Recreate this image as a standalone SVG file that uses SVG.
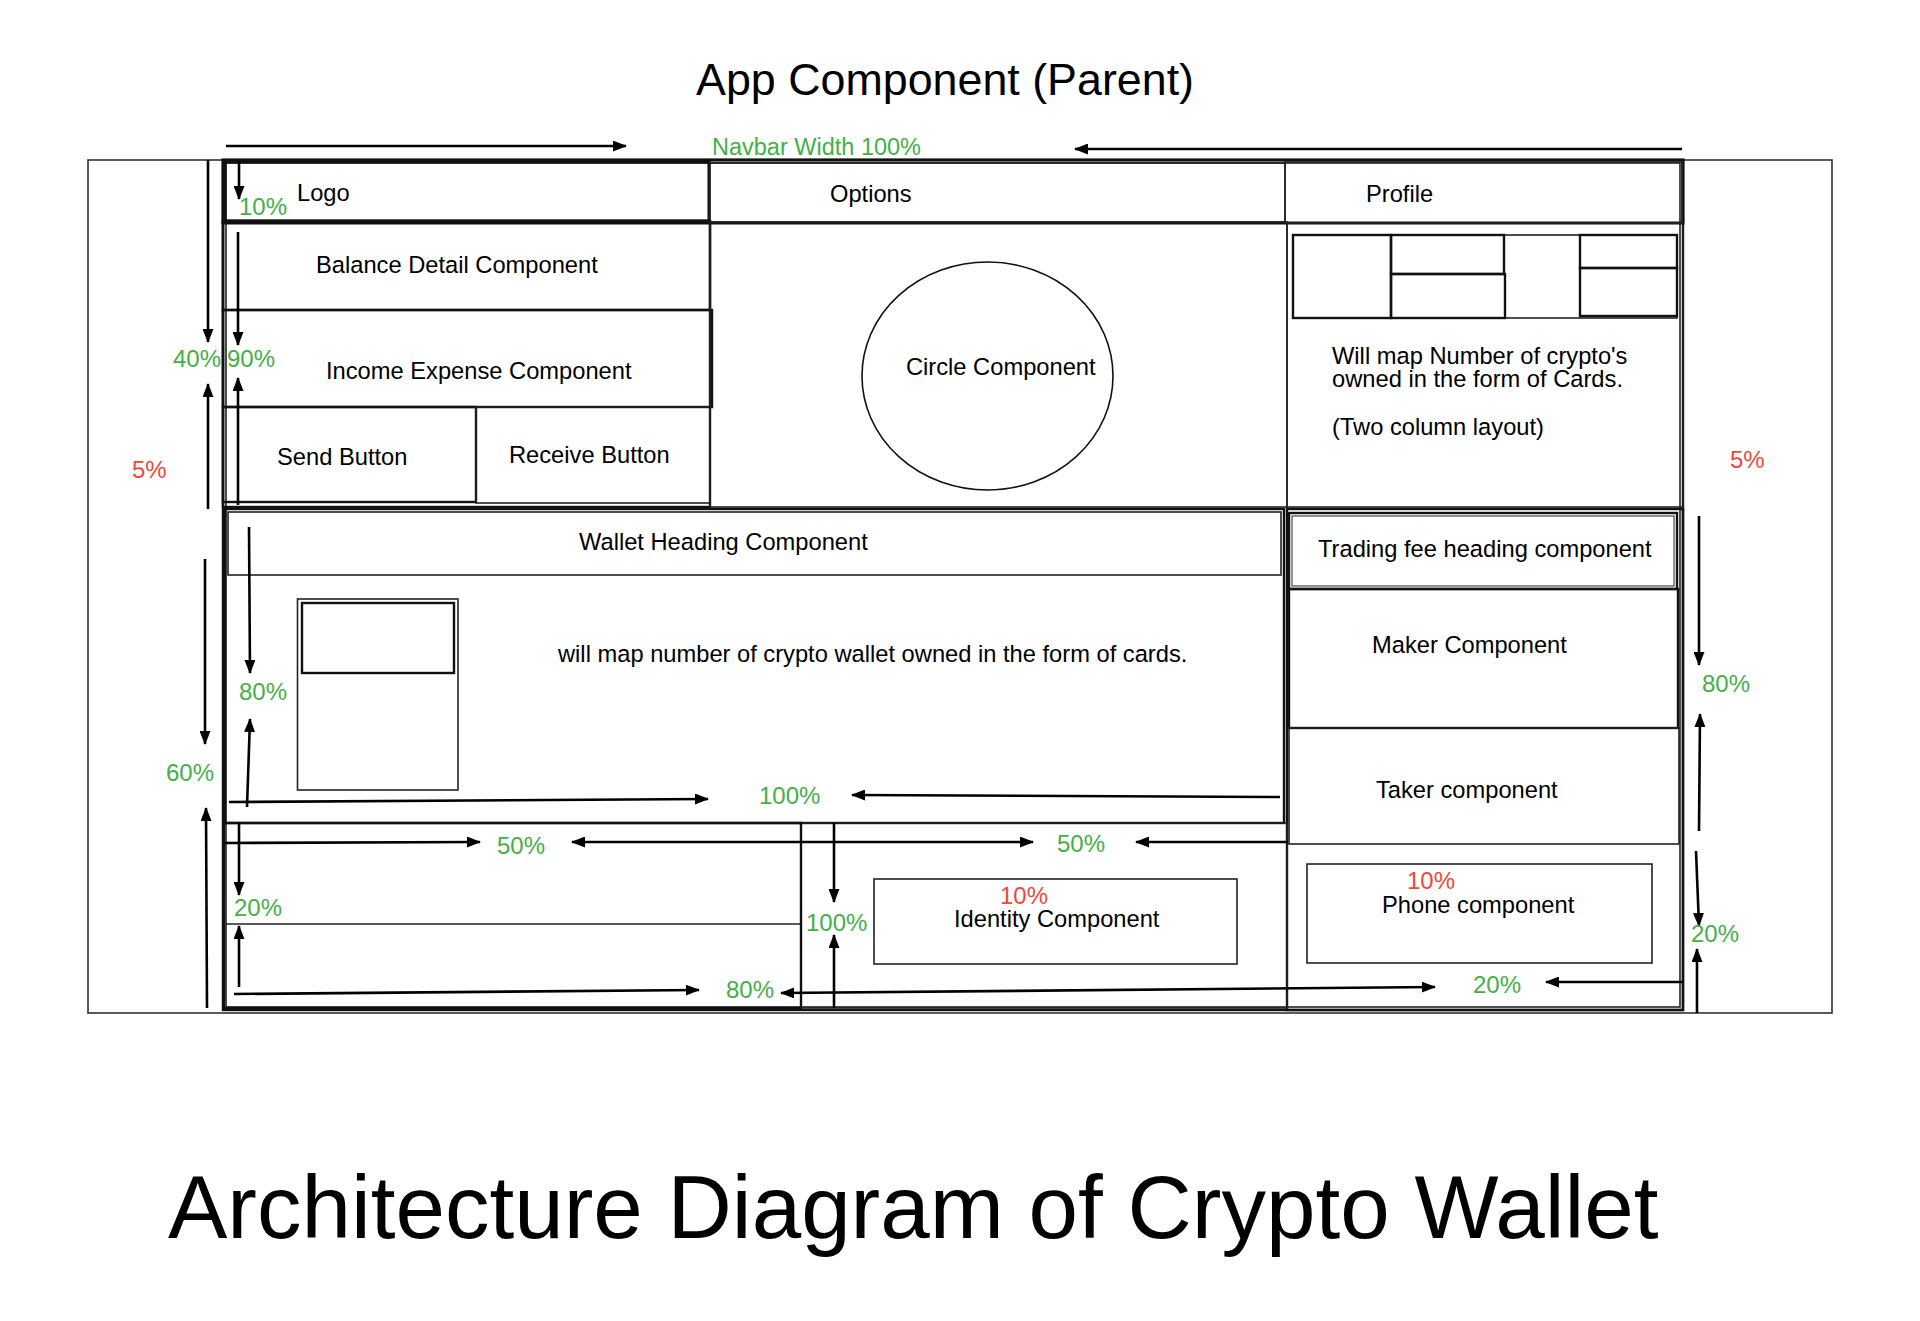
<svg xmlns="http://www.w3.org/2000/svg" width="1920" height="1321" viewBox="0 0 1920 1321">
<style>
  .box{fill:none;stroke:#222;stroke-width:1.6}
  .bx2{fill:none;stroke:#111;stroke-width:2.4}
  .t{font-family:"Liberation Sans",Arial,sans-serif;font-size:23.7px;fill:#000}
  .g{font-family:"Liberation Sans",Arial,sans-serif;font-size:24px;fill:#43b047}
  .r{font-family:"Liberation Sans",Arial,sans-serif;font-size:24px;fill:#f2463a}
  .a{fill:none;stroke:#000;stroke-width:2.6;marker-end:url(#ah)}
  .d{fill:none;stroke:#000;stroke-width:2.6;marker-end:url(#ah);marker-start:url(#ah)}
</style>
<defs>
  <marker id="ah" viewBox="0 0 14 11" refX="13" refY="5.5" markerWidth="14" markerHeight="11" markerUnits="userSpaceOnUse" orient="auto-start-reverse">
    <path d="M0,0 L14,5.5 L0,11 z" fill="#000"/>
  </marker>
</defs>
<rect width="1920" height="1321" fill="#fff"/>

<text x="696" y="95" style="font-family:'Liberation Sans',Arial,sans-serif;font-size:44.8px;fill:#000">App Component (Parent)</text>

<g id="app-frame">
  <rect class="box" x="88" y="160" width="1744" height="853" style="stroke:#333"/>
  <rect class="bx2" x="223" y="160" width="1460" height="850"/>
  <rect class="box" x="226" y="163" width="1454" height="844"/>
</g>

<g id="navbar">
  <rect x="223" y="160" width="1460" height="63" fill="none" stroke="#111" stroke-width="3"/>
  <g id="logo">
    <rect class="bx2" x="225" y="162" width="484" height="59" style="stroke-width:3"/>
    <text class="t" x="297" y="201">Logo</text>
  </g>
  <g id="options">
    <rect class="box" x="710" y="163" width="575" height="59"/>
    <text class="t" x="830" y="202">Options</text>
  </g>
  <g id="profile">
    <rect class="box" x="1285" y="162" width="397" height="61"/>
    <text class="t" x="1366" y="202">Profile</text>
  </g>
</g>

<g id="balance-detail">
  <rect class="bx2" x="223" y="221" width="487" height="89"/>
  <text class="t" x="316" y="273">Balance Detail Component</text>
</g>
<g id="income-expense">
  <rect class="bx2" x="223" y="310" width="489" height="97"/>
  <text class="t" x="326" y="379">Income Expense Component</text>
</g>
<g id="send-button">
  <rect class="bx2" x="223" y="407" width="253" height="95"/>
  <text class="t" x="277" y="465">Send Button</text>
</g>
<g id="receive-button">
  <rect class="box" x="476" y="407" width="234" height="96"/>
  <rect class="bx2" x="223" y="221" width="487" height="286"/>
  <text class="t" x="509" y="463">Receive Button</text>
</g>

<g id="circle-component">
  <rect class="box" x="710" y="222" width="577" height="285"/>
  <ellipse cx="987.5" cy="376" rx="125.5" ry="114" fill="none" stroke="#111" stroke-width="1.6"/>
  <text class="t" x="906" y="375">Circle Component</text>
</g>

<g id="crypto-cards">
  <rect class="box" x="1287" y="223" width="396" height="284"/>
  <rect class="box" x="1293" y="235" width="384" height="83"/>
  <rect class="bx2" x="1293" y="235" width="98" height="83"/>
  <rect class="bx2" x="1391" y="235" width="113" height="39"/>
  <rect class="bx2" x="1391" y="274" width="114" height="44"/>
  <rect class="bx2" x="1580" y="235" width="97" height="33"/>
  <rect class="bx2" x="1580" y="268" width="97" height="48"/>
  <text class="t" x="1332" y="364">Will map Number of crypto's</text>
  <text class="t" x="1332" y="387">owned in the form of Cards.</text>
  <text class="t" x="1332" y="435">(Two column layout)</text>
</g>

<g id="wallet">
  <rect class="bx2" x="225" y="509" width="1059" height="314"/>
  <rect class="box" x="228" y="512" width="1053" height="63"/>
  <text class="t" x="579" y="550">Wallet Heading Component</text>
  <rect class="box" x="297.5" y="599" width="160.5" height="191"/>
  <rect class="bx2" x="302" y="603" width="152" height="70"/>
  <text class="t" x="558" y="662">will map number of crypto wallet owned in the form of cards.</text>
</g>

<g id="trading-fee">
  <rect class="bx2" x="1287" y="509" width="396" height="501"/>
  <rect class="bx2" x="1289" y="513" width="388" height="76"/>
  <rect class="box" x="1292" y="516" width="382" height="70" style="stroke-width:1"/>
  <text class="t" x="1318" y="557">Trading fee heading component</text>
</g>
<g id="maker">
  <rect class="bx2" x="1289" y="589" width="389" height="139"/>
  <text class="t" x="1372" y="653">Maker Component</text>
</g>
<g id="taker">
  <rect class="box" x="1289" y="728" width="390" height="116"/>
  <text class="t" x="1376" y="798">Taker component</text>
</g>
<g id="phone">
  <rect class="box" x="1307" y="864" width="345" height="99"/>
  <text class="r" x="1407" y="889">10%</text>
  <text class="t" x="1382" y="913">Phone component</text>
</g>

<g id="bottom-left">
  <rect class="box" x="224" y="823" width="1063" height="185"/>
  <rect class="bx2" x="224" y="823" width="577" height="185"/>
  <line x1="224" y1="924" x2="800" y2="924" stroke="#222" stroke-width="1.6"/>
</g>
<g id="identity">
  <rect class="box" x="874" y="879" width="363" height="85"/>
  <text class="r" x="1000" y="904">10%</text>
  <text class="t" x="954" y="927">Identity Component</text>
</g>

<g id="connectors">
  <path class="a" d="M226,146 L626,146"/>
  <path class="a" d="M1682,149 L1075,149"/>
  <path class="a" d="M239,161 L239,199"/>
  <path class="a" d="M208,160 L208,342"/>
  <path class="a" d="M208,509 L208,384"/>
  <path class="a" d="M238,232 L238,345"/>
  <path class="a" d="M238,505 L238,378"/>
  <path class="a" d="M205,559 L205,744"/>
  <path class="a" d="M207,1008 L206,808"/>
  <path class="a" d="M249,527 L250,673"/>
  <path class="a" d="M247,807 L250,719"/>
  <path class="a" d="M229,802 L708,799"/>
  <path class="a" d="M1280,797 L852,795"/>
  <path class="a" d="M225,843 L480,842"/>
  <path class="d" d="M572,842 L1033,842"/>
  <path class="a" d="M1288,842 L1136,842"/>
  <path class="a" d="M239,823 L239,895"/>
  <path class="a" d="M239,987 L239,926"/>
  <path class="a" d="M234,994 L699,990"/>
  <path class="d" d="M781,993 L1435,987"/>
  <path class="a" d="M1683,982 L1546,982"/>
  <path class="a" d="M834,823 L834,902"/>
  <path class="a" d="M834,1008 L834,935"/>
  <path class="a" d="M1699,516 L1699,665"/>
  <path class="a" d="M1699,831 L1700,714"/>
  <path class="a" d="M1696,851 L1699,926"/>
  <path class="a" d="M1697,1013 L1697,949"/>
</g>

<g id="labels">
  <text class="g" x="712" y="155" style="font-size:23.5px">Navbar Width 100%</text>
  <text class="g" x="239" y="215">10%</text>
  <text class="g" x="173" y="367">40%</text>
  <text class="g" x="227" y="367">90%</text>
  <text class="r" x="132" y="478">5%</text>
  <text class="r" x="1730" y="468">5%</text>
  <text class="g" x="239" y="700">80%</text>
  <text class="g" x="166" y="781">60%</text>
  <text class="g" x="759" y="804">100%</text>
  <text class="g" x="497" y="854">50%</text>
  <text class="g" x="1057" y="852">50%</text>
  <text class="g" x="234" y="916">20%</text>
  <text class="g" x="806" y="931">100%</text>
  <text class="g" x="726" y="998">80%</text>
  <text class="g" x="1473" y="993">20%</text>
  <text class="g" x="1702" y="692">80%</text>
  <text class="g" x="1691" y="942">20%</text>
</g>

<text x="168" y="1238" style="font-family:'Liberation Sans',Arial,sans-serif;font-size:89px;fill:#000">Architecture Diagram of Crypto Wallet</text>
</svg>
